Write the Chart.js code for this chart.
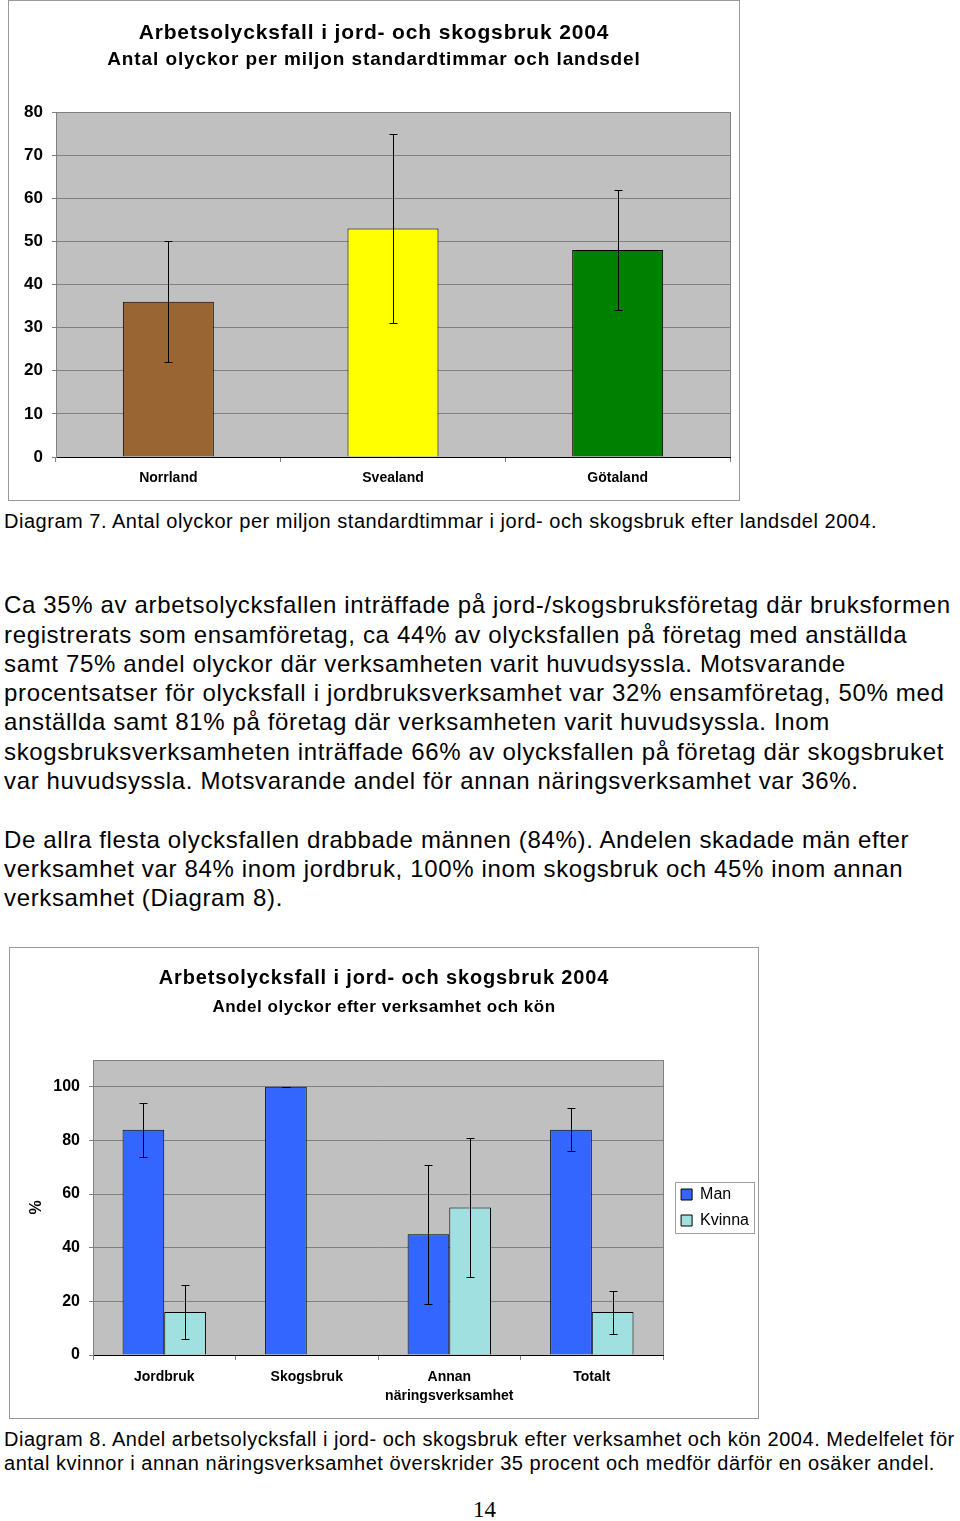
<!DOCTYPE html>
<html><head><meta charset="utf-8">
<script src="https://cdn.jsdelivr.net/npm/chart.js@4/dist/chart.umd.min.js"></script>
<style>
html,body{margin:0;padding:0;background:#fff;}
body{width:960px;height:1521px;position:relative;overflow:hidden;font-family:'Liberation Sans',Arial,sans-serif;color:#000;}
.t{position:absolute;left:4px;white-space:nowrap;line-height:1;}
.p{font-size:24px;letter-spacing:0.65px;}
.c{font-size:20px;letter-spacing:0.52px;}
.ct{position:absolute;white-space:nowrap;line-height:1;text-align:center;font-weight:bold;}
.box{position:absolute;border:1px solid #999;box-sizing:border-box;}
canvas{position:absolute;}
</style></head><body>
<div class="box" style="left:8px;top:0px;width:732px;height:501px;"></div>
<canvas id="c1" width="732" height="501" style="left:8px;top:0px;"></canvas>
<div class="ct" style="left:8px;width:732px;top:21px;font-size:21px;letter-spacing:0.85px;">Arbetsolycksfall i jord- och skogsbruk 2004</div>
<div class="ct" style="left:8px;width:732px;top:49px;font-size:19px;letter-spacing:0.9px;">Antal olyckor per miljon standardtimmar och landsdel</div>
<div class="t c" style="top:511px;">Diagram 7. Antal olyckor per miljon standardtimmar i jord- och skogsbruk efter landsdel 2004.</div>

<div class="t p" style="top:593px;">Ca 35% av arbetsolycksfallen inträffade på jord-/skogsbruksföretag där bruksformen</div>
<div class="t p" style="top:623px;">registrerats som ensamföretag, ca 44% av olycksfallen på företag med anställda</div>
<div class="t p" style="top:652px;">samt 75% andel olyckor där verksamheten varit huvudsyssla. Motsvarande</div>
<div class="t p" style="top:681px;">procentsatser för olycksfall i jordbruksverksamhet var 32% ensamföretag, 50% med</div>
<div class="t p" style="top:710px;">anställda samt 81% på företag där verksamheten varit huvudsyssla. Inom</div>
<div class="t p" style="top:740px;">skogsbruksverksamheten inträffade 66% av olycksfallen på företag där skogsbruket</div>
<div class="t p" style="top:769px;">var huvudsyssla. Motsvarande andel för annan näringsverksamhet var 36%.</div>

<div class="t p" style="top:828px;">De allra flesta olycksfallen drabbade männen (84%). Andelen skadade män efter</div>
<div class="t p" style="top:857px;">verksamhet var 84% inom jordbruk, 100% inom skogsbruk och 45% inom annan</div>
<div class="t p" style="top:886px;">verksamhet (Diagram 8).</div>

<div class="box" style="left:9px;top:947px;width:750px;height:472px;"></div>
<canvas id="c2" width="750" height="472" style="left:9px;top:947px;"></canvas>
<div class="ct" style="left:9px;width:750px;top:967px;font-size:20px;letter-spacing:0.86px;">Arbetsolycksfall i jord- och skogsbruk 2004</div>
<div class="ct" style="left:9px;width:750px;top:998px;font-size:17px;letter-spacing:0.53px;">Andel olyckor efter verksamhet och kön</div>
<div class="t c" style="top:1429px;">Diagram 8. Andel arbetsolycksfall i jord- och skogsbruk efter verksamhet och kön 2004. Medelfelet för</div>
<div class="t c" style="top:1453px;">antal kvinnor i annan näringsverksamhet överskrider 35 procent och medför därför en osäker andel.</div>
<div class="t" style="top:1498px;left:473px;font-family:'Liberation Serif','Times New Roman',serif;font-size:23px;">14</div>

<script>
// ---- Data: Diagram 7 ----
const regions = ['Norrland', 'Svealand', 'Götaland'];
const accidentRates = [36, 53, 48];
const accidentLow = [22, 31, 34];
const accidentHigh = [50, 75, 62];
const chart1Ticks = [0, 10, 20, 30, 40, 50, 60, 70, 80];

// ---- Data: Diagram 8 ----
const activities = ['Jordbruk', 'Skogsbruk', ['Annan', 'näringsverksamhet'], 'Totalt'];
const manValues = [84, 100, 45, 84];
const manLow = [74, 100, 19, 76];
const manHigh = [94, 100, 71, 92];
const kvinnaValues = [16, 0, 55, 16];
const kvinnaLow = [6, 0, 29, 8];
const kvinnaHigh = [26, 0, 81, 24];
const chart2Ticks = [0, 20, 40, 60, 80, 100];

// ---- Styles ----
const F = "'Liberation Sans', Arial, sans-serif";
const regionColors = ['#996633', '#FFFF00', '#008000'];

const plotBg = {
  id: 'plotBg',
  beforeDraw(chart) {
    const {ctx, chartArea: a} = chart;
    ctx.save();
    ctx.fillStyle = '#C0C0C0';
    ctx.fillRect(a.left, a.top, a.right - a.left, a.bottom - a.top);
    ctx.strokeStyle = '#808080';
    ctx.lineWidth = 1;
    ctx.strokeRect(Math.round(a.left) + 0.5, Math.round(a.top) + 0.5, Math.round(a.right - a.left), Math.round(a.bottom - a.top));
    ctx.restore();
  }
};

const errorBars = {
  id: 'errorBars',
  afterDatasetsDraw(chart) {
    const ctx = chart.ctx, y = chart.scales.y;
    ctx.save();
    ctx.strokeStyle = '#000';
    ctx.lineWidth = 1;
    chart.data.datasets.forEach((ds, i) => {
      if (!ds.errLow) return;
      const meta = chart.getDatasetMeta(i);
      meta.data.forEach((bar, j) => {
        const x = Math.round(bar.x) + 0.5;
        const yl = Math.round(y.getPixelForValue(ds.errLow[j])) + 0.5;
        const yh = Math.round(y.getPixelForValue(ds.errHigh[j])) + 0.5;
        ctx.beginPath();
        ctx.moveTo(x, yl); ctx.lineTo(x, yh);
        ctx.moveTo(x - 4, yl); ctx.lineTo(x + 4, yl);
        ctx.moveTo(x - 4, yh); ctx.lineTo(x + 4, yh);
        ctx.stroke();
      });
    });
    ctx.restore();
  }
};

const legendBorder = {
  id: 'legendBorder',
  afterDraw(chart) {
    const lg = chart.legend;
    if (!lg || !lg.legendHitBoxes || !lg.legendHitBoxes.length) return;
    let l = Infinity, t = Infinity, r = -Infinity, b = -Infinity;
    lg.legendHitBoxes.forEach(h => {
      l = Math.min(l, h.left); t = Math.min(t, h.top);
      r = Math.max(r, h.left + h.width); b = Math.max(b, h.top + h.height);
    });
    const ctx = chart.ctx;
    ctx.save();
    ctx.strokeStyle = '#A0A0A0';
    ctx.lineWidth = 1;
    ctx.strokeRect(Math.round(l - 6) + 0.5, Math.round(t - 5) + 0.5, Math.round(r - l + 11), Math.round(b - t + 9));
    ctx.restore();
  }
};

new Chart(document.getElementById('c1'), {
  type: 'bar',
  data: {
    labels: regions,
    datasets: [{
      data: accidentRates, errLow: accidentLow, errHigh: accidentHigh,
      backgroundColor: regionColors, borderColor: '#000', borderWidth: 1,
      barPercentage: 0.405, categoryPercentage: 1
    }]
  },
  options: {
    responsive: false, animation: false, devicePixelRatio: 1,
    layout: {padding: {left: 0, right: 10, top: 112, bottom: 0}},
    plugins: {legend: {display: false}, tooltip: {enabled: false}},
    scales: {
      x: {
        grid: {display: true, drawOnChartArea: false, drawTicks: true, tickLength: 5, color: '#808080', offset: true},
        border: {color: '#000'},
        ticks: {color: '#000', font: {family: F, size: 14, weight: 'bold'}, padding: 8, maxRotation: 0, autoSkip: false},
        afterFit(s) { s.height = 44; }
      },
      y: {
        min: 0, max: 80,
        afterBuildTicks(s) { s.ticks = chart1Ticks.map(v => ({value: v})); },
        ticks: {color: '#000', font: {family: F, size: 17, weight: 'bold'}, padding: 9},
        grid: {color: '#808080', tickLength: 4},
        border: {color: '#808080'},
        afterFit(s) { s.width = 48; }
      }
    }
  },
  plugins: [plotBg, errorBars]
});

new Chart(document.getElementById('c2'), {
  type: 'bar',
  data: {
    labels: activities,
    datasets: [
      {label: 'Man', data: manValues, errLow: manLow, errHigh: manHigh,
        backgroundColor: '#3366FF', borderColor: '#000', borderWidth: 1,
        barPercentage: 1, categoryPercentage: 0.585},
      {label: 'Kvinna', data: kvinnaValues, errLow: kvinnaLow, errHigh: kvinnaHigh,
        backgroundColor: '#A0E0E0', borderColor: '#000', borderWidth: 1,
        barPercentage: 1, categoryPercentage: 0.585}
    ]
  },
  options: {
    responsive: false, animation: false, devicePixelRatio: 1,
    layout: {padding: {left: 0, right: 0, top: 113, bottom: 0}},
    plugins: {
      tooltip: {enabled: false},
      legend: {display: true, position: 'right', fullSize: false,
        labels: {color: '#000', font: {family: F, size: 16}, boxWidth: 11, boxHeight: 11, padding: 10}}
    },
    scales: {
      x: {
        grid: {display: true, drawOnChartArea: false, drawTicks: true, tickLength: 5, color: '#808080', offset: true},
        border: {color: '#000'},
        ticks: {color: '#000', font: {family: F, size: 14, weight: 'bold', lineHeight: 1.35}, padding: 8, maxRotation: 0, autoSkip: false},
        afterFit(s) { s.height = 64; }
      },
      y: {
        min: 0, max: 110,
        afterBuildTicks(s) { s.ticks = chart2Ticks.map(v => ({value: v})); },
        ticks: {color: '#000', font: {family: F, size: 16, weight: 'bold'}, padding: 9},
        grid: {color: '#808080', tickLength: 4},
        border: {color: '#808080'},
        title: {display: true, text: '%', color: '#000', font: {family: F, size: 16, weight: 'bold'}, padding: {top: 18, bottom: 0}},
        afterFit(s) { s.width = 84; }
      },
      yR: {
        type: 'linear', axis: 'y', position: 'right', display: true,
        grid: {display: false}, border: {display: false}, ticks: {display: false},
        afterFit(s) { s.width = 8; }
      }
    }
  },
  plugins: [plotBg, errorBars, legendBorder]
});
</script>
</body></html>
